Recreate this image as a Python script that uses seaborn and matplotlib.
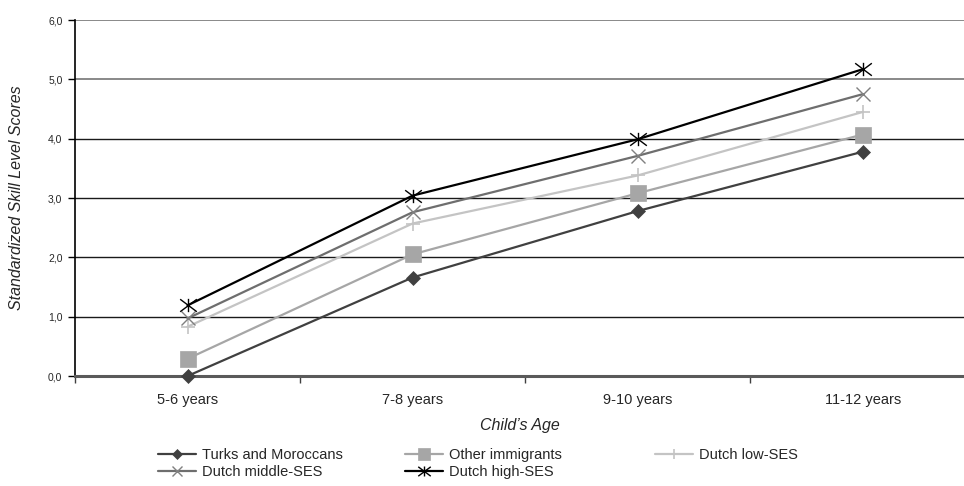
import matplotlib
matplotlib.use("Agg")
import matplotlib.pyplot as plt
import numpy as np
import pandas as pd
import seaborn as sns
from matplotlib.path import Path
from matplotlib.ticker import FuncFormatter

# ----- Data -----

ages = ['5-6 years', '7-8 years', '9-10 years', '11-12 years']
turks_moroccans = [0.00, 1.66, 2.78, 3.78]
other_immigrants = [0.29, 2.05, 3.08, 4.07]
dutch_low_ses = [0.83, 2.57, 3.38, 4.45]
dutch_middle_ses = [0.97, 2.76, 3.71, 4.75]
dutch_high_ses = [1.19, 3.04, 3.99, 5.17]

series_names = ['Turks and Moroccans', 'Other immigrants', 'Dutch low-SES', 'Dutch middle-SES', 'Dutch high-SES']
series_values = [turks_moroccans, other_immigrants, dutch_low_ses, dutch_middle_ses, dutch_high_ses]

# ----- Styles -----

asterisk = Path([(-1, -0.75), (1, 0.75), (-1, 0.75), (1, -0.75), (0, -0.8), (0, 0.8)],
                [Path.MOVETO, Path.LINETO, Path.MOVETO, Path.LINETO, Path.MOVETO, Path.LINETO])

styles = {
    'Turks and Moroccans': {'color': '#404040', 'marker': 'D', 'markersize': 7, 'mfc': '#404040', 'mec': '#404040', 'mew': 0.5},
    'Other immigrants': {'color': '#a6a6a6', 'marker': 's', 'markersize': 11, 'mfc': '#a6a6a6', 'mec': '#a6a6a6', 'mew': 0.5},
    'Dutch low-SES': {'color': '#c4c4c4', 'marker': '+', 'markersize': 10, 'mfc': '#c4c4c4', 'mec': '#c4c4c4', 'mew': 1.2},
    'Dutch middle-SES': {'color': '#6e6e6e', 'marker': 'x', 'markersize': 10, 'mfc': '#808080', 'mec': '#808080', 'mew': 1.0},
    'Dutch high-SES': {'color': '#000000', 'marker': asterisk, 'markersize': 12, 'mfc': 'none', 'mec': '#000000', 'mew': 1.0},
}

sns.set_style('white')
plt.rcParams['font.family'] = ['Liberation Sans', 'DejaVu Sans']

fig = plt.figure(figsize = (9.64, 4.86), dpi = 100)
ax = fig.add_axes([75 / 964, 1 - 376 / 486, 889 / 964, 356 / 486])

# -- Lines --

for name, vals in zip(series_names, series_values):
    df = pd.DataFrame({'age': ages, 'score': vals})
    st = styles[name]
    sns.lineplot(data = df, x = 'age', y = 'score', ax = ax, color = st['color'], linewidth = 1.6,
                 marker = st['marker'], markersize = st['markersize'], markerfacecolor = st['mfc'],
                 markeredgecolor = st['mec'], markeredgewidth = st['mew'], clip_on = False, zorder = 4,
                 legend = False, errorbar = None)

lines = ax.get_lines()[-5:]

# -- Axes --

ax.set_xlim(-0.5, 3.45)
ax.set_ylim(0, 6)
ax.set_yticks(np.arange(0, 7, 1))
ax.yaxis.set_major_formatter(FuncFormatter(lambda v, p: f'{v:.1f}'.replace('.', ',')))
ax.set_xticks(range(len(ages)))
ax.set_xticklabels(ages)
ax.set_xticks([-0.5, 0.5, 1.5, 2.5], minor = True)

ax.tick_params(axis = 'y', which = 'major', direction = 'out', length = 5, width = 1, color = '#000000',
               labelsize = 7.5, pad = 4, left = True)
ax.tick_params(axis = 'x', which = 'major', length = 0, labelsize = 10.5, pad = 12)
ax.tick_params(axis = 'x', which = 'minor', direction = 'out', length = 5, width = 1, color = '#404040', bottom = True)

for v in range(1, 7):
    c = '#808080' if v >= 5 else '#1a1a1a'
    ax.axhline(v, color = c, linewidth = 1.0 if v < 5 else 1.3, zorder = 1)

for s in ['top', 'right']:
    ax.spines[s].set_visible(False)
ax.spines['left'].set_color('#000000')
ax.spines['left'].set_linewidth(1.2)
ax.spines['bottom'].set_color('#5a5a5a')
ax.spines['bottom'].set_linewidth(2.2)

ax.set_xlabel('Child\u2019s Age', fontsize = 11.5, style = 'italic')
ax.xaxis.set_label_coords(0.5, -0.118)
ax.set_ylabel('Standardized Skill Level Scores', fontsize = 11.5, style = 'italic')
ax.yaxis.set_label_coords(-0.057, 0.5)

# -- Legend, one block per column --

legend_cols = [([0, 3], 158), ([1, 4], 405), ([2], 655)]
for idx, xpx in legend_cols:
    leg = fig.legend([lines[i] for i in idx], [series_names[i] for i in idx],
                     loc = 'upper left', bbox_to_anchor = (xpx / 964, 1 - 448 / 486),
                     frameon = False, fontsize = 10.5, handlelength = 2.6, handletextpad = 0.4,
                     labelspacing = 0.22, borderpad = 0, borderaxespad = 0, markerscale = 0.75)

fig.savefig('out.png', dpi = 100)
